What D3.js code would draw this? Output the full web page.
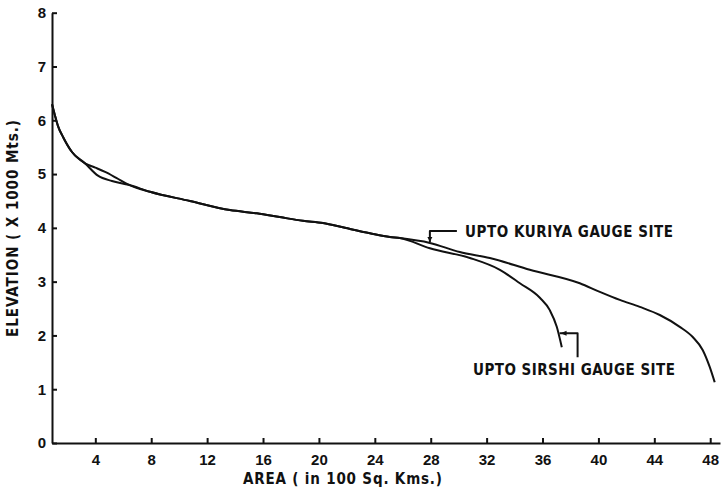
<!DOCTYPE html>
<html>
<head>
<meta charset="utf-8">
<script src="https://cdn.jsdelivr.net/npm/d3@7"></script>
<style>
  body { margin: 0; background: #fff; }
  svg { display: block; font-family: "DejaVu Sans", sans-serif; font-stretch: condensed; }
  .axis path, .axis line { stroke: #111; stroke-width: 2; }
  .axis text { font-size: 15px; font-weight: bold; fill: #111; }
  .curve { fill: none; stroke: #111; stroke-width: 2; stroke-linejoin: round; }
  .label { font-size: 15px; font-weight: bold; fill: #111; }
</style>
</head>
<body>
<div id="chart"></div>
<script>
// Hypsometric curves, area in 100 sq. km, elevation in 1000 m
const kuriyaArea = [0.9, 1.1, 1.33, 1.69, 2.33, 3.26, 4.0, 4.7, 5.5, 6.4, 7.91, 10.77, 13.63, 15.56, 17.2, 18.85, 20.29, 21.86, 23.65, 25.08, 25.79, 27.94, 30.08, 32.23, 35.09, 38.67, 40.1, 41.53, 42.96, 44.39, 45.82, 46.75, 47.46, 47.97, 48.32];
const kuriyaElev = [6.30, 6.10, 5.89, 5.69, 5.41, 5.20, 5.12, 5.04, 4.93, 4.80, 4.67, 4.50, 4.33, 4.27, 4.20, 4.13, 4.09, 4.00, 3.90, 3.83, 3.81, 3.72, 3.55, 3.44, 3.22, 2.97, 2.81, 2.66, 2.53, 2.38, 2.16, 1.97, 1.73, 1.41, 1.13];

const sirshiArea = [0.9, 1.1, 1.33, 1.69, 2.33, 3.26, 4.19, 5.19, 6.4, 7.91, 10.77, 13.63, 15.56, 17.2, 18.85, 20.29, 21.86, 23.65, 25.08, 25.79, 27.94, 30.8, 32.95, 34.38, 35.81, 36.52, 37.02, 37.38];
const sirshiElev = [6.30, 6.10, 5.89, 5.69, 5.41, 5.20, 4.97, 4.87, 4.80, 4.67, 4.50, 4.33, 4.27, 4.20, 4.13, 4.09, 4.00, 3.90, 3.83, 3.81, 3.62, 3.44, 3.22, 2.97, 2.70, 2.47, 2.16, 1.78];

const xTicks = [4, 8, 12, 16, 20, 24, 28, 32, 36, 40, 44, 48];
const yTicks = [0, 1, 2, 3, 4, 5, 6, 7, 8];

const width = 726, height = 490;

const svg = d3.select('#chart').append('svg')
  .attr('width', width)
  .attr('height', height);

const x = d3.scaleLinear().domain([0.9, 48.7]).range([52, 720]);
const y = d3.scaleLinear().domain([0, 8]).range([443, 12.7]);

// Axes with inward ticks
svg.append('g')
  .attr('class', 'axis')
  .attr('transform', `translate(0, ${y(0)})`)
  .call(d3.axisBottom(x).tickValues(xTicks).tickSizeInner(-5).tickSizeOuter(0).tickPadding(11))
  .call(g => g.selectAll('text').attr('dy', '0.71em'));

svg.append('g')
  .attr('class', 'axis')
  .attr('transform', `translate(${x.range()[0]}, 0)`)
  .call(d3.axisLeft(y).tickValues(yTicks).tickSizeInner(-5).tickSizeOuter(0).tickPadding(6));

// Curves
const line = d3.line()
  .x(d => x(d[0]))
  .y(d => y(d[1]))
  .curve(d3.curveMonotoneX);

const series = [
  kuriyaArea.map((a, i) => [a, kuriyaElev[i]]),
  sirshiArea.map((a, i) => [a, sirshiElev[i]])
];

svg.selectAll('.curve').data(series)
  .enter().append('path')
  .attr('class', 'curve')
  .attr('d', line);

// Annotation: Kuriya
const kx = x(27.94), ky = y(3.72);
svg.append('path')
  .attr('class', 'curve')
  .attr('stroke-width', 1.6)
  .attr('d', `M${kx},${ky - 1} L${kx},${ky - 12} L${kx + 27},${ky - 12}`);
svg.append('path')
  .attr('d', `M${kx - 2.5},${ky - 6} L${kx + 2.5},${ky - 6} L${kx},${ky - 1} Z`)
  .attr('fill', '#111');
svg.append('text')
  .attr('class', 'label')
  .attr('x', 465)
  .attr('y', 237)
  .attr('textLength', 208)
  .attr('lengthAdjust', 'spacing')
  .text('UPTO KURIYA GAUGE SITE');

// Annotation: Sirshi
const sx = x(37.15), sy = y(2.04);
svg.append('path')
  .attr('class', 'curve')
  .attr('stroke-width', 1.6)
  .attr('d', `M${sx + 1},${sy} L${sx + 19},${sy} L${sx + 19},${sy + 24}`);
svg.append('path')
  .attr('d', `M${sx + 8},${sy - 2.5} L${sx + 8},${sy + 2.5} L${sx + 2},${sy} Z`)
  .attr('fill', '#111');
svg.append('text')
  .attr('class', 'label')
  .attr('x', 473)
  .attr('y', 375)
  .attr('textLength', 202)
  .attr('lengthAdjust', 'spacing')
  .text('UPTO SIRSHI GAUGE SITE');

// Axis titles
svg.append('text')
  .attr('class', 'label')
  .attr('x', 243)
  .attr('y', 484)
  .attr('textLength', 199)
  .attr('lengthAdjust', 'spacing')
  .text('AREA ( in 100 Sq. Kms.)');

svg.append('text')
  .attr('class', 'label')
  .attr('transform', 'translate(18, 337) rotate(-90)')
  .attr('textLength', 217)
  .attr('lengthAdjust', 'spacing')
  .text('ELEVATION ( X 1000 Mts.)');
</script>
</body>
</html>
